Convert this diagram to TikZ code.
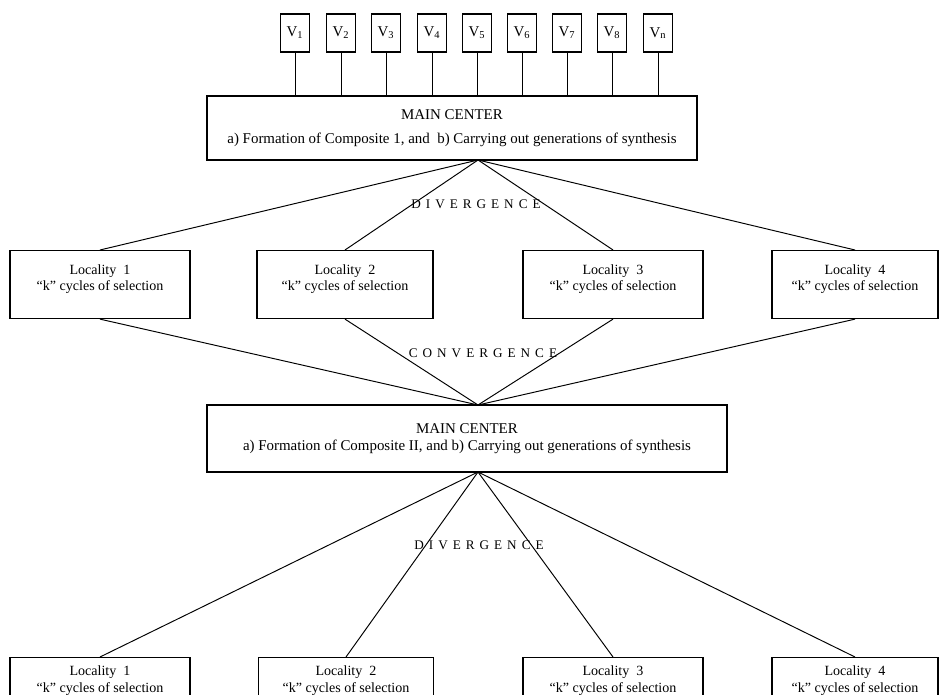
\documentclass[tikz,border=0pt]{standalone}
\usepackage{fontspec}
\setmainfont{Liberation Serif}
\newfontfamily\spacedfont[LetterSpace=38]{Liberation Serif}

\tikzset{
  vbox/.style={draw, line width=0.8pt, minimum width=0.58cm, minimum height=0.76cm, inner sep=0pt, font=\fontsize{8.5}{10}\selectfont},
  mainbox/.style={draw, line width=0.8pt, align=center, inner sep=0pt, font=\fontsize{8.5}{10}\selectfont},
  locbox/.style={draw, line width=0.8pt, align=center, anchor=north, inner xsep=0pt, font=\fontsize{8}{9}\selectfont},
  link/.style={line width=0.55pt},
  spaced/.style={font=\fontsize{7.5}{9}\spacedfont}
}

\begin{document}
\begin{tikzpicture}[x=0.02cm, y=-0.02cm]
  \useasboundingbox (0,0) rectangle (940,695);
  \clip (0,0) rectangle (940,695);
  % Centro principal I
  \node[mainbox, minimum width=9.8cm, minimum height=1.28cm] (main1) at (452,128)
    {MAIN CENTER\\[4pt]a) Formation of Composite 1, and\ \ b) Carrying out generations of synthesis};
  % Variedades V
  \foreach \i/\x/\lab in {1/295/1, 2/341/2, 3/386/3, 4/432/4, 5/477/5, 6/522/6, 7/567/7, 8/612/8, 9/658/n} {
    \node[vbox] (v\i) at (\x,33) {V\textsubscript{\lab}};
    \draw[link] (v\i.south) -- (v\i.south |- main1.north);
  }
  % Localidades (primer ciclo)
  \foreach \i/\x/\w in {1/100/3.6, 2/345/3.52, 3/613/3.6, 4/855/3.32} {
    \node[locbox, minimum width=\w cm, inner ysep=8pt, text depth=8pt] (locA\i) at (\x,250)
      {Locality\ \ \i\\``k'' cycles of selection};
  }
  % Centro principal II
  \node[mainbox, minimum width=10.4cm, minimum height=1.34cm] (main2) at (467,438.5)
    {MAIN CENTER\\a) Formation of Composite II, and b) Carrying out generations of synthesis};
  % Localidades (segundo ciclo)
  \foreach \i/\x/\w in {1/100/3.6, 2/346/3.5, 3/613/3.6, 4/855/3.32} {
    \node[locbox, minimum width=\w cm, inner ysep=4.5pt, text depth=40pt, font=\fontsize{8}{10}\selectfont] (locB\i) at (\x,657)
      {Locality\ \ \i\\``k'' cycles of selection};
  }
  % Vertices de las aristas
  \coordinate (apexA) at (478,160);
  \coordinate (apexB) at (478,405);
  \coordinate (apexC) at (478,472);
  % Divergencia / convergencia
  \foreach \i in {1,...,4} {
    \draw[link] (apexA) -- (locA\i.north);
    \draw[link] (locA\i.south) -- (apexB);
    \draw[link] (apexC) -- (locB\i.north);
  }
  % Rotulos
  \node[spaced] (div1) at (476,204) {DIVERGENCE};
  \node[spaced] (conv) at (483,353) {CONVERGENCE};
  \node[spaced] (div2) at (479,545) {DIVERGENCE};
\end{tikzpicture}
\end{document}
